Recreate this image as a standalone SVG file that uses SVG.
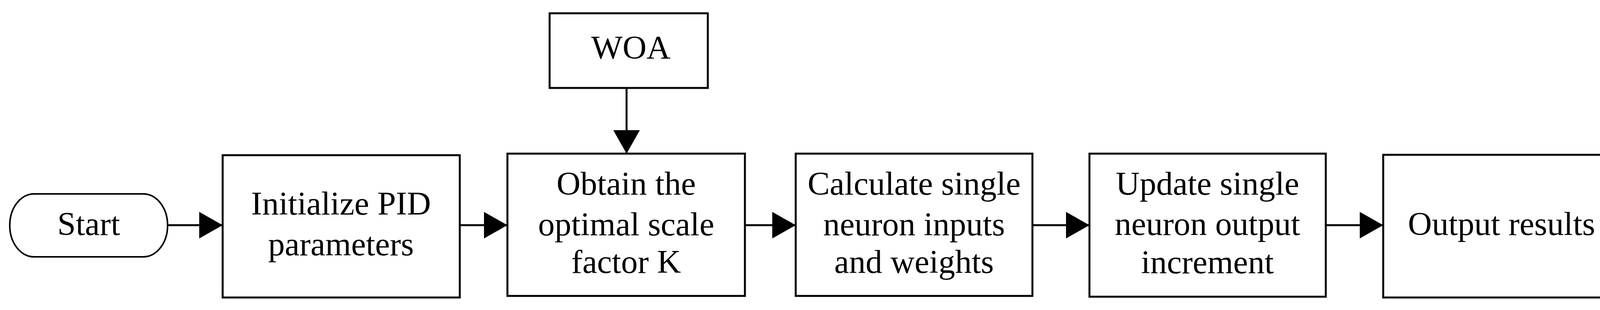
<svg xmlns="http://www.w3.org/2000/svg" width="4175" height="793" viewBox="0 0 4175 793">
<style>
.box{fill:#fff;stroke:#000;stroke-width:5}
.term{fill:#fff;stroke:#000;stroke-width:4}
.lbl{font-family:"Liberation Serif","Times New Roman",serif;font-size:85px;fill:#000;text-anchor:middle}
.conn{stroke:#000;stroke-width:5;fill:none}
</style>
<defs>
<marker id="ah" markerUnits="userSpaceOnUse" markerWidth="62" markerHeight="68" refX="60" refY="34" orient="auto">
<path d="M0,0 L60,34 L0,68 z" fill="#000"/>
</marker>
</defs>
<rect width="4175" height="793" fill="#fff"/>
<g id="start">
<rect class="term" x="25" y="496" width="404" height="161" rx="62" ry="80"/>
<text class="lbl" x="227" y="601">Start</text>
</g>
<g id="init">
<rect class="box" x="570" y="397" width="607" height="364"/>
<text class="lbl" x="873" y="549">Initialize PID</text>
<text class="lbl" x="873" y="653">parameters</text>
</g>
<g id="woa">
<rect class="box" x="1407" y="34" width="405" height="191"/>
<text class="lbl" x="1615" y="150">WOA</text>
</g>
<g id="obtain">
<rect class="box" x="1299" y="393" width="608" height="364"/>
<text class="lbl" x="1603" y="498">Obtain the</text>
<text class="lbl" x="1603" y="602">optimal scale</text>
<text class="lbl" x="1603" y="698">factor K</text>
</g>
<g id="calc">
<rect class="box" x="2037" y="393" width="606" height="364"/>
<text class="lbl" x="2340" y="498">Calculate single</text>
<text class="lbl" x="2340" y="602">neuron inputs</text>
<text class="lbl" x="2340" y="698">and weights</text>
</g>
<g id="update">
<rect class="box" x="2789" y="393" width="605" height="366"/>
<text class="lbl" x="3091" y="498">Update single</text>
<text class="lbl" x="3091" y="601">neuron output</text>
<text class="lbl" x="3091" y="699">increment</text>
</g>
<g id="output">
<rect class="box" x="3541" y="396" width="606" height="365"/>
<text class="lbl" x="3844" y="601">Output results</text>
</g>
<g id="connectors">
<line class="conn" x1="429" y1="576" x2="570" y2="576" marker-end="url(#ah)"/>
<line class="conn" x1="1177" y1="576" x2="1299" y2="576" marker-end="url(#ah)"/>
<line class="conn" x1="1907" y1="576" x2="2037" y2="576" marker-end="url(#ah)"/>
<line class="conn" x1="2643" y1="576" x2="2789" y2="576" marker-end="url(#ah)"/>
<line class="conn" x1="3394" y1="576" x2="3541" y2="576" marker-end="url(#ah)"/>
<line class="conn" x1="1604" y1="225" x2="1604" y2="393" marker-end="url(#ah)"/>
</g>
</svg>
